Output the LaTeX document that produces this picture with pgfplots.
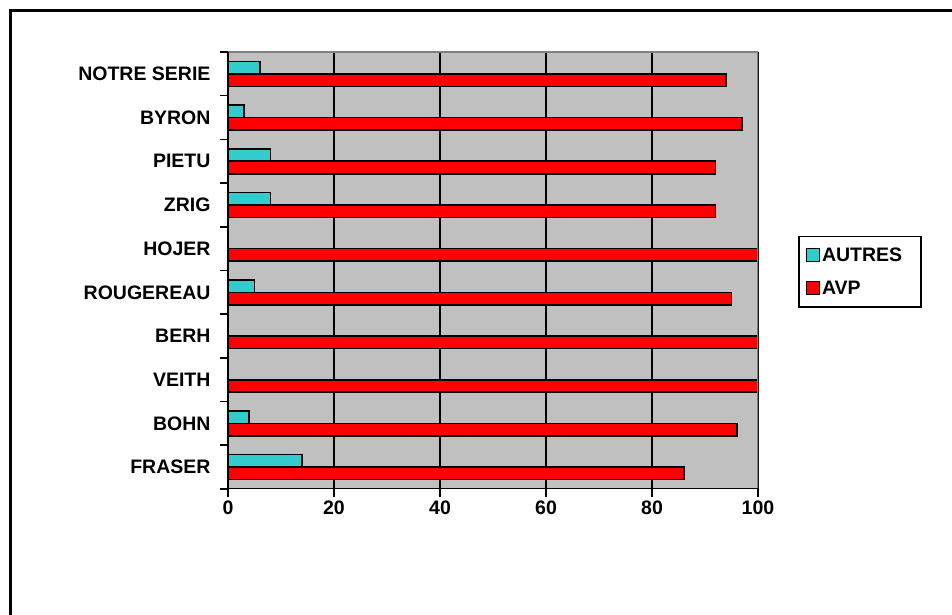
\documentclass[border=0pt]{standalone}
\usepackage{fontspec}
\setmainfont{Liberation Sans}
\setsansfont{Liberation Sans}
\usepackage{pgfplots}
\pgfplotsset{compat=1.18}
\definecolor{bggray}{RGB}{192,192,192}
\definecolor{autres}{RGB}{51,204,204}
\definecolor{avp}{RGB}{255,0,0}
\definecolor{edgegray}{RGB}{128,128,128}
\newcommand{\lblfont}{\fontsize{19.5}{22}\selectfont\bfseries}
\begin{document}
\begin{tikzpicture}
\path[use as bounding box] (0pt,0pt) rectangle (952pt,615pt);
\fill[white] (0pt,0pt) rectangle (952pt,615pt);
\draw[line width=3.6pt] (10.3pt,0pt) -- (10.3pt,604.5pt) -- (952pt,604.5pt);
\begin{axis}[
    at={(228pt,126pt)}, anchor=south west,
    scale only axis,
    width=530pt, height=437pt,
    xmin=0, xmax=100,
    ymin=-0.5, ymax=9.5,
    xbar, bar width=12.5pt,
    axis background/.style={fill=bggray},
    axis line style={draw=none},
    xtick={0,20,40,60,80,100},
    xtick pos=bottom, ytick pos=left,
    xmajorgrids,
    major grid style={black, line width=1.6pt},
    ytick={-0.5,0.5,1.5,2.5,3.5,4.5,5.5,6.5,7.5,8.5,9.5},
    yticklabels={},
    extra y ticks={0,1,2,3,4,5,6,7,8,9},
    extra y tick labels={FRASER,BOHN,VEITH,BERH,ROUGEREAU,HOJER,ZRIG,PIETU,BYRON,NOTRE SERIE},
    extra y tick style={major tick length=0pt, grid=none, tick style={draw=none},
        yticklabel style={xshift=-14pt}},
    tick align=outside,
    major tick length=8pt,
    tick style={black, line width=1.6pt},
    tick label style={font=\lblfont},
    /pgf/number format/assume math mode=true,
    legend style={at={(rel axis cs:1.0755,0.579)}, anchor=north west,
        draw=black, line width=1.5pt, fill=white, font=\lblfont,
        inner xsep=7pt, inner ysep=9pt, row sep=14pt,
        /tikz/every even column/.append style={column sep=4pt},
        legend cell align=left},
    legend image code/.code={\draw[#1, line width=1.3pt] (0pt,-6.5pt) rectangle (13pt,6.5pt);},
]
\addplot[fill=autres, draw=black, line width=1.6pt, bar shift=6.25pt] coordinates {
(14,0) (4,1) (0,2) (0,3) (5,4) (0,5) (8,6) (8,7) (3,8) (6,9)
};
\addplot[fill=avp, draw=black, line width=1.6pt, bar shift=-6.25pt] coordinates {
(86,0) (96,1) (100,2) (100,3) (95,4) (100,5) (92,6) (92,7) (97,8) (94,9)
};
\legend{AUTRES\hspace*{10pt},AVP}
\draw[edgegray, line width=1.6pt] (rel axis cs:0,1) -- (rel axis cs:1,1) -- (rel axis cs:1,0);
\draw[black, line width=1.8pt] (rel axis cs:0,1) -- (rel axis cs:0,0) -- (rel axis cs:1,0);
\end{axis}
\end{tikzpicture}
\end{document}
